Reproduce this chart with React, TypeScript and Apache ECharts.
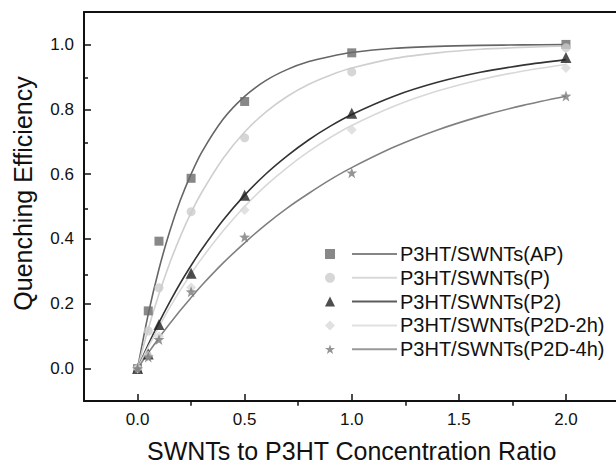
import React, { useEffect, useRef } from "react";
import * as echarts from "echarts";

const seriesNames = [
  "P3HT/SWNTs(AP)",
  "P3HT/SWNTs(P)",
  "P3HT/SWNTs(P2)",
  "P3HT/SWNTs(P2D-2h)",
  "P3HT/SWNTs(P2D-4h)",
];

const xData = [0, 0.05, 0.1, 0.25, 0.5, 1.0, 2.0];
const apValues = [0, 0.178, 0.393, 0.587, 0.824, 0.974, 1.0];
const pValues = [0, 0.116, 0.249, 0.484, 0.712, 0.915, 0.99];
const p2Values = [0, 0.045, 0.136, 0.294, 0.535, 0.788, 0.96];
const p2d2hValues = [0, 0.04, 0.1, 0.25, 0.489, 0.737, 0.927];
const p2d4hValues = [0, 0.036, 0.09, 0.237, 0.406, 0.604, 0.841];

const fitX = [0, 0.05, 0.1, 0.15, 0.2, 0.25, 0.3, 0.4, 0.5, 0.6, 0.7, 0.8, 0.9, 1.0, 1.2, 1.4, 1.6, 1.8, 2.0];
const apFit = [0, 0.168, 0.307, 0.423, 0.52, 0.6, 0.668, 0.77, 0.84, 0.889, 0.923, 0.947, 0.963, 0.975, 0.988, 0.994, 0.997, 0.9986, 0.9993];
const pFit = [0, 0.123, 0.23, 0.325, 0.408, 0.481, 0.544, 0.649, 0.73, 0.792, 0.84, 0.877, 0.905, 0.927, 0.957, 0.974, 0.985, 0.991, 0.995];
const p2Fit = [0, 0.074, 0.142, 0.205, 0.264, 0.318, 0.368, 0.458, 0.535, 0.601, 0.657, 0.706, 0.748, 0.784, 0.841, 0.883, 0.914, 0.936, 0.953];
const p2d2hFit = [0, 0.067, 0.129, 0.188, 0.242, 0.293, 0.34, 0.425, 0.5, 0.565, 0.621, 0.67, 0.713, 0.75, 0.81, 0.856, 0.891, 0.918, 0.938];
const p2d4hFit = [0, 0.0485, 0.0946, 0.138, 0.18, 0.219, 0.257, 0.326, 0.388, 0.445, 0.496, 0.541, 0.583, 0.62, 0.684, 0.736, 0.778, 0.812, 0.84];

const yMajorTicks = [0, 0.2, 0.4, 0.6, 0.8, 1.0];
const yMinorTicks = [0.1, 0.3, 0.5, 0.7, 0.9];
const xMajorTicks = [0, 0.5, 1.0, 1.5, 2.0];
const xMinorTicks = [0.25, 0.75, 1.25, 1.75];

const STAR = "path://M0,-10 L2.35,-3.24 L9.51,-3.09 L3.8,1.24 L5.88,8.09 L0,4 L-5.88,8.09 L-3.8,1.24 L-9.51,-3.09 L-2.35,-3.24 Z";

const markerValues = [apValues, pValues, p2Values, p2d2hValues, p2d4hValues];
const fitValues = [apFit, pFit, p2Fit, p2d2hFit, p2d4hFit];
const markerSymbols = ["rect", "circle", "triangle", "diamond", STAR];
const markerSizes = [9, 9, 11, 10, 11];
const markerColors = ["#6a6a6a", "#cccccc", "#222222", "#dadada", "#7a7a7a"];
const lineColors = ["#666666", "#cfcfcf", "#333333", "#d8d8d8", "#808080"];

const FONT = "Liberation Sans";

export default function App() {
  const ref = useRef<HTMLDivElement>(null);
  useEffect(() => {
    if (!ref.current) return;
    const chart = echarts.init(ref.current, null, { renderer: "svg" });
    const fmt = (v: number) => v.toFixed(1);
    const scatterSeries = seriesNames.map((name, i) => ({
      name,
      type: "scatter",
      xAxisIndex: 0,
      yAxisIndex: 0,
      z: 3,
      symbol: markerSymbols[i],
      symbolSize: markerSizes[i],
      itemStyle: { color: markerColors[i] },
      data: xData.map((x, j) => [x, markerValues[i][j]]),
    }));
    const lineSeries = seriesNames.map((name, i) => ({
      name,
      type: "line",
      xAxisIndex: 0,
      yAxisIndex: 0,
      z: 2,
      smooth: 0.3,
      showSymbol: false,
      symbol: "none",
      lineStyle: { color: lineColors[i], width: 1.6 },
      itemStyle: { color: lineColors[i] },
      data: fitX.map((x, j) => [x, fitValues[i][j]]),
    }));
    const tickStyle = { color: "#111", width: 1.5 };
    const gridRect = { left: 84, top: 12, width: 535.5, height: 393.7, show: false };
    const xRange = { type: "value" as const, min: -0.25, max: 2.25, splitLine: { show: false } };
    const yRange = { type: "value" as const, min: -0.1, max: 1.1, splitLine: { show: false } };
    chart.setOption({
      animation: false,
      backgroundColor: "#ffffff",
      textStyle: { fontFamily: FONT },
      grid: [gridRect, { ...gridRect }],
      legend: [
        {
          orient: "vertical",
          left: 325,
          top: 249,
          padding: 0,
          itemWidth: 10,
          itemHeight: 10,
          itemGap: 13.8,
          selectedMode: false,
          textStyle: { fontFamily: FONT, fontSize: 20, color: "#111" },
          formatter: () => "",
          data: seriesNames.map((name, i) => ({
            name,
            icon: markerSymbols[i],
            itemStyle: { color: markerColors[i] },
          })),
        },
        {
          orient: "vertical",
          left: 352,
          top: 244,
          padding: 0,
          itemWidth: 45,
          itemHeight: 2,
          itemGap: 3.8,
          selectedMode: false,
          textStyle: { fontFamily: FONT, fontSize: 20, color: "#111", padding: [0, 0, 0, -2] },
          data: seriesNames.map((name, i) => ({
            name,
            icon: "rect",
            itemStyle: { color: lineColors[i] },
          })),
        },
      ],
      xAxis: [
        {
          ...xRange,
          gridIndex: 0,
          position: "bottom",
          name: "SWNTs to P3HT Concentration Ratio",
          nameLocation: "middle",
          nameGap: 37,
          nameTextStyle: { fontFamily: FONT, fontSize: 25, color: "#111" },
          axisLine: { show: true, onZero: false, lineStyle: { color: "#111", width: 2 } },
          axisTick: { show: true, inside: true, length: 7, customValues: xMajorTicks, lineStyle: tickStyle },
          axisLabel: { show: true, margin: 10, fontFamily: FONT, fontSize: 17, color: "#111", customValues: xMajorTicks, formatter: fmt },
        },
        {
          ...xRange,
          gridIndex: 0,
          position: "top",
          axisLine: { show: true, onZero: false, lineStyle: { color: "#111", width: 2 } },
          axisTick: { show: false },
          axisLabel: { show: false },
        },
        {
          ...xRange,
          gridIndex: 1,
          position: "bottom",
          axisLine: { show: false, onZero: false },
          axisTick: { show: true, inside: true, length: 4, customValues: xMinorTicks, lineStyle: tickStyle },
          axisLabel: { show: false },
        },
      ],
      yAxis: [
        {
          ...yRange,
          gridIndex: 0,
          position: "left",
          name: "Quenching Efficiency",
          nameLocation: "middle",
          nameGap: 49,
          nameTextStyle: { fontFamily: FONT, fontSize: 25, color: "#111", padding: [0, 0, 0, 26] },
          axisLine: { show: true, onZero: false, lineStyle: { color: "#111", width: 2 } },
          axisTick: { show: true, inside: true, length: 7, customValues: yMajorTicks, lineStyle: tickStyle },
          axisLabel: { show: true, margin: 10, fontFamily: FONT, fontSize: 17, color: "#111", customValues: yMajorTicks, formatter: fmt },
        },
        {
          ...yRange,
          gridIndex: 1,
          position: "left",
          axisLine: { show: false, onZero: false },
          axisTick: { show: true, inside: true, length: 4, customValues: yMinorTicks, lineStyle: tickStyle },
          axisLabel: { show: false },
        },
      ],
      series: [...scatterSeries, ...lineSeries],
    });
    return () => chart.dispose();
  }, []);
  return (
    <div style={{ position: "absolute", left: 0, top: 0, width: 616, height: 468, overflow: "hidden" }}>
      <div ref={ref} style={{ width: 640, height: 468 }} />
    </div>
  );
}
